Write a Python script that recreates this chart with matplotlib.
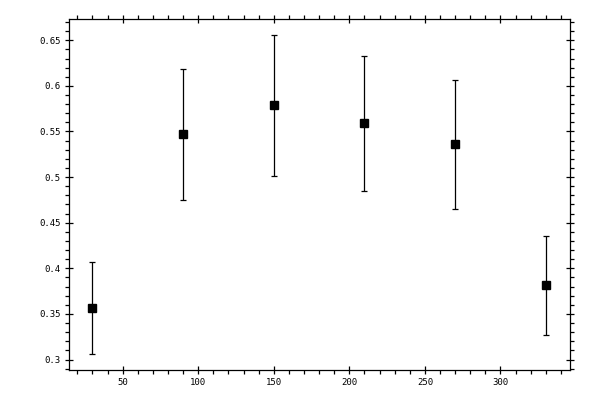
import matplotlib
matplotlib.use("Agg")
import matplotlib.pyplot as plt
from matplotlib.ticker import MultipleLocator

x_values = [30, 90, 150, 210, 270, 330]
y_values = [0.3565, 0.547, 0.5787, 0.559, 0.536, 0.3812]
y_errors = [0.050, 0.072, 0.077, 0.074, 0.0705, 0.054]
x_ticks = [50, 100, 150, 200, 250, 300]
y_ticks = [0.3, 0.35, 0.4, 0.45, 0.5, 0.55, 0.6, 0.65]
y_tick_labels = ["0.3", "0.35", "0.4", "0.45", "0.5", "0.55", "0.6", "0.65"]

fig = plt.figure(figsize=(6, 4), dpi=100)
ax = fig.add_axes([69.3 / 600, 1 - 370 / 400, (570 - 69.3) / 600, (370 - 19.3) / 400])

ax.errorbar(x_values, y_values, yerr=y_errors, fmt='s', color='black',
            markersize=5.3, capsize=2.3, elinewidth=0.9, capthick=0.9)

ax.set_xlim(14.7, 346)
ax.set_ylim(0.2885, 0.673)
ax.set_xticks(x_ticks)
ax.set_yticks(y_ticks)
ax.set_yticklabels(y_tick_labels)
ax.xaxis.set_minor_locator(MultipleLocator(10))
ax.yaxis.set_minor_locator(MultipleLocator(0.01))

ax.tick_params(which='major', direction='inout', length=6, width=0.9,
               top=True, right=True, labelsize=6.5, pad=3)
ax.tick_params(which='minor', direction='out', length=3, width=0.9,
               top=True, right=True)
for lab in ax.get_xticklabels() + ax.get_yticklabels():
    lab.set_family('DejaVu Sans Mono')
for sp in ax.spines.values():
    sp.set_linewidth(0.9)

fig.savefig("out.png", dpi=100)
